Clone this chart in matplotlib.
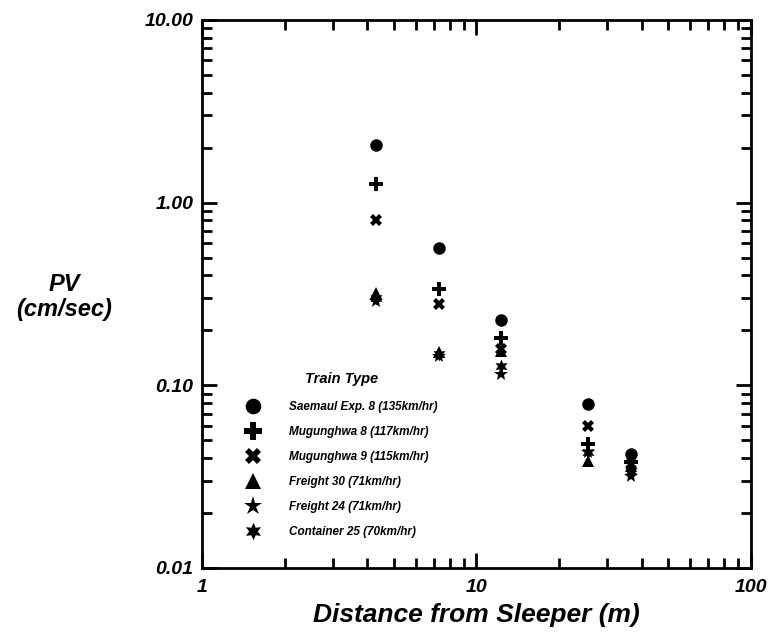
import matplotlib
matplotlib.use("Agg")
import matplotlib.pyplot as plt
from matplotlib.ticker import FixedLocator, FixedFormatter, LogLocator, NullFormatter

# data (distance in m, PV in cm/sec)
distance = [4.3, 7.3, 12.3, 25.4, 36.5]
saemaul_8 = [2.08, 0.567, 0.229, 0.079, 0.042]
mugunghwa_8 = [1.27, 0.338, 0.182, 0.048, 0.038]
mugunghwa_9 = [0.80, 0.28, 0.158, 0.060, 0.037]
freight_30 = [0.32, 0.152, 0.155, 0.0387, 0.036]
freight_24 = [0.29, 0.144, 0.116, 0.043, 0.032]
container_25 = [0.30, 0.148, 0.128, 0.043, 0.034]

labels = [
    "Saemaul Exp. 8 (135km/hr)",
    "Mugunghwa 8 (117km/hr)",
    "Mugunghwa 9 (115km/hr)",
    "Freight 30 (71km/hr)",
    "Freight 24 (71km/hr)",
    "Container 25 (70km/hr)",
]
series = [saemaul_8, mugunghwa_8, mugunghwa_9, freight_30, freight_24, container_25]
markers = ["o", "P", "X", "^", "*", (6, 1, 0)]
sizes = [9, 10, 9, 9, 11, 10]

y_ticks = [0.01, 0.1, 1, 10]
y_ticklabels = ["0.01", "0.10", "1.00", "10.00"]
x_ticks = [1, 10, 100]
x_ticklabels = ["1", "10", "100"]

FONT = "Liberation Sans"

fig = plt.figure(figsize=(7.7, 6.32), dpi=100)
ax = fig.add_axes([0.2623, 0.1013, 0.7130, 0.8671])

for vals, lab, mk, ms in zip(series, labels, markers, sizes):
    ax.plot(distance, vals, linestyle="none", marker=mk, markersize=ms,
            color="black", markeredgewidth=0, label=lab)

ax.set_xscale("log")
ax.set_yscale("log")
ax.set_xlim(1, 100)
ax.set_ylim(0.01, 10)

ax.xaxis.set_major_locator(FixedLocator(x_ticks))
ax.xaxis.set_major_formatter(FixedFormatter(x_ticklabels))
ax.yaxis.set_major_locator(FixedLocator(y_ticks))
ax.yaxis.set_major_formatter(FixedFormatter(y_ticklabels))
ax.xaxis.set_minor_locator(LogLocator(base=10, subs=range(2, 10)))
ax.yaxis.set_minor_locator(LogLocator(base=10, subs=range(2, 10)))
ax.xaxis.set_minor_formatter(NullFormatter())
ax.yaxis.set_minor_formatter(NullFormatter())

ax.tick_params(which="both", direction="in", top=True, right=True, width=2, color="black")
ax.tick_params(which="major", length=11, pad=6)
ax.tick_params(axis="x", which="major", pad=8)
ax.tick_params(which="minor", length=7)
for s in ax.spines.values():
    s.set_linewidth(2)

for t in ax.get_xticklabels() + ax.get_yticklabels():
    t.set_fontfamily(FONT)
    t.set_fontstyle("italic")
    t.set_fontweight("bold")
    t.set_fontsize(14)

ax.set_xlabel("Distance from Sleeper (m)", fontfamily=FONT, fontstyle="italic",
              fontweight="bold", fontsize=19, labelpad=5)
fig.text(0.083, 0.53, "PV\n(cm/sec)", ha="center", va="center", fontfamily=FONT,
         fontstyle="italic", fontweight="bold", fontsize=17, linespacing=1.15)

leg = ax.legend(loc="upper left", bbox_to_anchor=(0.06, 0.377), frameon=False,
                title="Train Type", markerscale=1.25, handlelength=1.2,
                handletextpad=2.45, labelspacing=1.1,
                prop={"family": FONT, "style": "italic", "weight": "bold", "size": 8.5},
                title_fontproperties={"family": FONT, "style": "italic",
                                      "weight": "bold", "size": 10.5})
leg._legend_box.sep = 11

fig.savefig("out.png", dpi=100)
